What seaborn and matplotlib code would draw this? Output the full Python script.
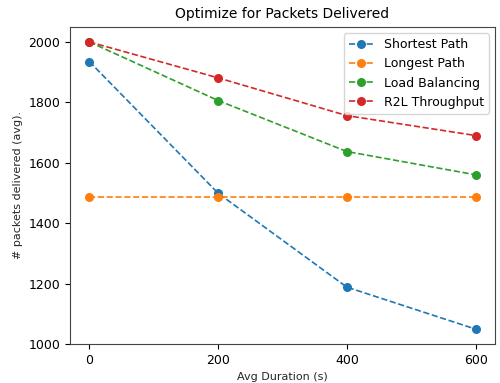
import numpy as np
import pandas as pd
import seaborn as sns
from matplotlib import pyplot as plt

durations = [0, 200, 400, 600]
shortest_path = [1935, 1499, 1188, 1049]
longest_path = [1488, 1488, 1488, 1488]
load_balancing = [2000, 1806, 1637, 1560]
r2l_throughput = [2000, 1881, 1756, 1690]
policies = ['Shortest Path', 'Longest Path', 'Load Balancing', 'R2L Throughput']


def plot():
    sns.set_style('ticks')
    plt.rcParams['font.family'] = ['DejaVu Sans']
    plt.rcParams['text.color'] = 'black'
    plt.rcParams['xtick.color'] = 'black'
    plt.rcParams['ytick.color'] = 'black'

    rows = []
    for name, values in zip(policies, [shortest_path, longest_path, load_balancing, r2l_throughput]):
        for d, v in zip(durations, values):
            rows.append([name, d, v])
    plot_data = pd.DataFrame(rows, columns=['policy', 'duration', 'delivered'])

    fig, ax = plt.subplots(figsize=(5, 3.83), dpi=100)
    sns.lineplot(data=plot_data, x='duration', y='delivered', hue='policy', hue_order=policies,
                 palette=sns.color_palette('tab10', 4), marker='o', markersize=6.5, markeredgewidth=0,
                 linestyle='--', linewidth=1.2, ax=ax)

    ax.set_ylim(1000, 2050)
    ax.set_xticks(durations)
    ax.set_yticks([1000, 1200, 1400, 1600, 1800, 2000])
    ax.set_title('Optimize for Packets Delivered', fontsize=10)
    ax.set_xlabel('Avg Duration (s)', fontsize=8)
    ax.set_ylabel('# packets delivered (avg).', fontsize=8)
    ax.tick_params(labelsize=9, colors='black')
    for spine in ax.spines.values():
        spine.set_color('#444444')
    leg = ax.legend(title=None, loc='upper right', fontsize=9, handlelength=2.0)
    for line in leg.get_lines():
        line.set_linestyle('--')

    plt.subplots_adjust(left=0.14, right=0.99, top=0.93, bottom=0.102)
    plt.savefig('out.png')


if __name__ == '__main__':
    plot()
